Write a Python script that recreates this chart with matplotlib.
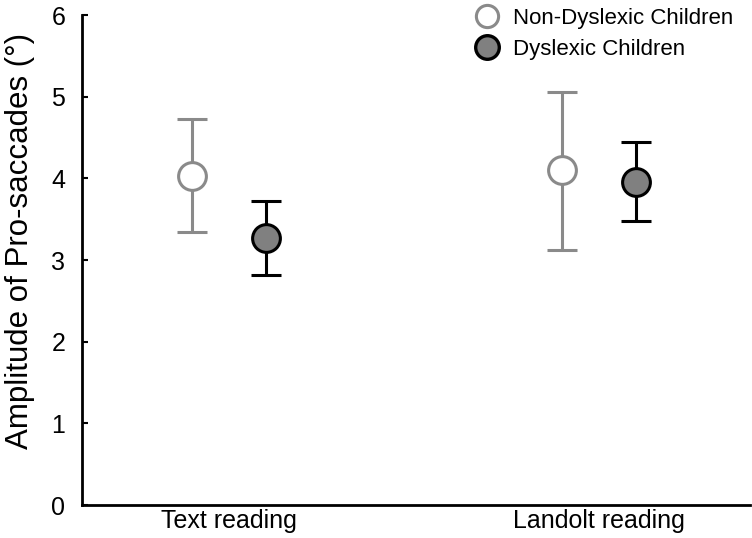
import matplotlib
matplotlib.use('Agg')
import matplotlib.pyplot as plt
from matplotlib.lines import Line2D

plt.rcParams['font.family'] = ['Liberation Sans', 'DejaVu Sans']

# Data
categories = ['Text reading', 'Landolt reading']
nondys_mean = [4.03, 4.10]
nondys_low = [3.34, 3.13]
nondys_high = [4.73, 5.06]
dys_mean = [3.27, 3.96]
dys_low = [2.82, 3.48]
dys_high = [3.72, 4.45]

grey = '#8a8a8a'

fig = plt.figure(figsize=(7.52, 5.38), dpi=100)
ax = fig.add_axes([0.109, 0.061, 0.888, 0.911])

x = list(range(len(categories)))
off = 0.1

# Non-dyslexic (open grey circles)
xn = [i - off for i in x]
yerr_n = [[m - l for m, l in zip(nondys_mean, nondys_low)],
          [h - m for m, h in zip(nondys_mean, nondys_high)]]
ax.errorbar(xn, nondys_mean, yerr=yerr_n, fmt='o', color=grey,
            ecolor=grey, elinewidth=2.2, capsize=11, capthick=2.2,
            markersize=20, markerfacecolor='white', markeredgecolor=grey,
            markeredgewidth=2.2, zorder=3)

# Dyslexic (filled grey, black edge)
xd = [i + off for i in x]
yerr_d = [[m - l for m, l in zip(dys_mean, dys_low)],
          [h - m for m, h in zip(dys_mean, dys_high)]]
ax.errorbar(xd, dys_mean, yerr=yerr_d, fmt='o', color='black',
            ecolor='black', elinewidth=2.2, capsize=11, capthick=2.2,
            markersize=20, markerfacecolor='#808080', markeredgecolor='black',
            markeredgewidth=2.2, zorder=3)

ax.set_xlim(-0.397, 1.408)
ax.set_ylim(0, 6)
ax.set_yticks(range(0, 7))
ax.set_xticks(x)
ax.set_xticklabels(categories, fontsize=18)
ax.tick_params(axis='x', length=0, pad=3)
ax.tick_params(axis='y', direction='in', length=4, width=1.5, labelsize=18, pad=12)
ax.set_ylabel('Amplitude of Pro-saccades (°)', fontsize=22.5)
ax.yaxis.set_label_coords(-0.070, 0.54)

ax.spines['top'].set_visible(False)
ax.spines['right'].set_visible(False)
ax.spines['left'].set_linewidth(2)
ax.spines['bottom'].set_linewidth(2)

handles = [
    Line2D([], [], linestyle='none', marker='o', markersize=16,
           markerfacecolor='white', markeredgecolor=grey, markeredgewidth=2.2),
    Line2D([], [], linestyle='none', marker='o', markersize=17,
           markerfacecolor='#808080', markeredgecolor='black', markeredgewidth=2.4),
]
ax.legend(handles, ['Non-Dyslexic Children', 'Dyslexic Children'],
          loc='upper left', bbox_to_anchor=(0.557, 1.056), frameon=False,
          fontsize=16, handlelength=1.2, handletextpad=0.55,
          labelspacing=0.45)

fig.savefig('out.png', dpi=100)
